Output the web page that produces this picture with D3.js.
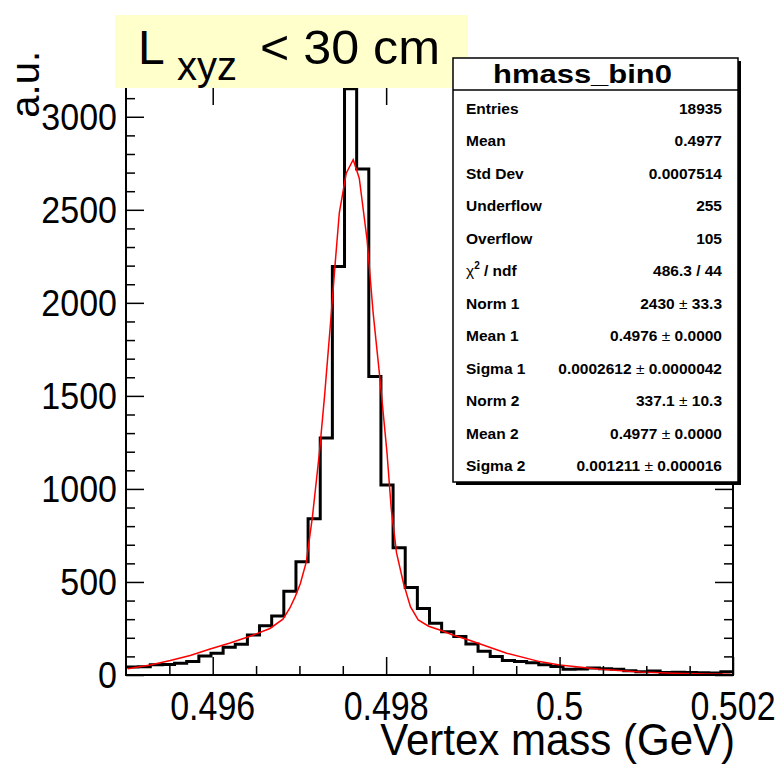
<!DOCTYPE html>
<html>
<head>
<meta charset="utf-8">
<script src="https://cdn.jsdelivr.net/npm/d3@7"></script>
<style>
  body { margin: 0; background: #fff; }
  svg { display: block; font-family: "Liberation Sans", Arial, Helvetica, sans-serif; }
</style>
</head>
<body>
<svg id="chart" width="778" height="767"></svg>
<script>
// histogram hmass_bin0, 50 bins over [0.495, 0.502]
const massMin = 0.495, massMax = 0.502;
const binCounts = [43, 45, 55, 57, 63, 72, 102, 117, 149, 165,
                   215, 265, 317, 450, 609, 840, 1274, 2195, 3150, 2719,
                   1604, 1021, 684, 470, 358, 278, 233, 207, 167, 127,
                   99, 78, 72, 66, 55, 46, 31, 32, 37, 33,
                   31, 23, 18, 21, 14, 15, 14, 12, 11, 18];

// fit curve
const fitMass = [0.49502, 0.49528, 0.49551, 0.49574, 0.49597, 0.49620, 0.49643, 0.49666,
                 0.49681, 0.49689, 0.49695, 0.49701, 0.49708, 0.49715, 0.49723, 0.49729,
                 0.49736, 0.49741, 0.49746, 0.49754, 0.49762, 0.49769, 0.49778, 0.49785,
                 0.49793, 0.49801, 0.49806, 0.49812, 0.49820, 0.49828, 0.49837, 0.49849,
                 0.49862, 0.49877, 0.49897, 0.49939, 0.49977, 0.50000, 0.50047, 0.50093,
                 0.50131, 0.50170, 0.50197];
const fitValue = [34, 54, 78, 105, 140, 172, 208, 250,
                  300, 360, 420, 490, 609, 851, 1193, 1500,
                  1900, 2199, 2484, 2697, 2769, 2670, 2339, 1946,
                  1586, 1193, 887, 656, 493, 367, 296, 262,
                  242, 215, 185, 117, 72, 54, 31, 16,
                  9, 5, 4];

const xTickValues = [0.496, 0.498, 0.5, 0.502];
const xTickLabels = ['0.496', '0.498', '0.5', '0.502'];
const yTickValues = [0, 500, 1000, 1500, 2000, 2500, 3000];
const yTickLabels = ['0', '500', '1000', '1500', '2000', '2500', '3000'];

const statsTitle = 'hmass_bin0';
const statsNames = ['Entries', 'Mean', 'Std Dev', 'Underflow', 'Overflow', 'chi2',
                    'Norm 1', 'Mean 1', 'Sigma 1', 'Norm 2', 'Mean 2', 'Sigma 2'];
const statsValues = ['18935', '0.4977', '0.0007514', '255', '105', '486.3 / 44',
                     '2430 \u00b1 33.3', '0.4976 \u00b1 0.0000', '0.0002612 \u00b1 0.0000042',
                     '337.1 \u00b1 10.3', '0.4977 \u00b1 0.0000', '0.001211 \u00b1 0.000016'];

const svg = d3.select('#chart');
const frame = { left: 126, right: 733, top: 87, bottom: 675 };

const x = d3.scaleLinear().domain([massMin, massMax]).range([frame.left, frame.right]);
const y = d3.scaleLinear().domain([0, 3160]).range([frame.bottom, frame.top]);

svg.append('defs').append('clipPath').attr('id', 'frameClip')
    .append('rect')
    .attr('x', frame.left).attr('y', frame.top)
    .attr('width', frame.right - frame.left).attr('height', frame.bottom - frame.top);

// histogram outline as steps
const binWidth = (massMax - massMin) / binCounts.length;
const steps = [];
binCounts.forEach((c, i) => {
    steps.push([massMin + i * binWidth, c]);
    steps.push([massMin + (i + 1) * binWidth, c]);
});

const plot = svg.append('g').attr('clip-path', 'url(#frameClip)');

plot.append('path')
    .datum(steps)
    .attr('fill', 'none')
    .attr('stroke', '#000')
    .attr('stroke-width', 3)
    .attr('d', d3.line().x(d => x(d[0])).y(d => y(d[1])));

plot.append('path')
    .datum(fitMass.map((m, i) => [m, fitValue[i]]))
    .attr('fill', 'none')
    .attr('stroke', '#ff0000')
    .attr('stroke-width', 1.5)
    .attr('d', d3.line().x(d => x(d[0])).y(d => y(d[1])));

// axes, ticks on both sides like ROOT
const axisStyle = g => {
    g.select('.domain').remove();
    g.selectAll('line').attr('stroke', '#000').attr('stroke-width', 1.5);
};

const xMinor = [0.4955, 0.4965, 0.497, 0.4975, 0.4985, 0.499, 0.4995, 0.5005, 0.501, 0.5015];
const yMinor = d3.range(100, 3160, 100).filter(v => v % 500 !== 0);

// bottom
svg.append('g')
    .attr('transform', `translate(0,${frame.bottom})`)
    .call(d3.axisTop(x).tickValues(xTickValues).tickSize(18).tickFormat(''))
    .call(axisStyle);
svg.append('g')
    .attr('transform', `translate(0,${frame.bottom})`)
    .call(d3.axisTop(x).tickValues(xMinor).tickSize(9).tickFormat(''))
    .call(axisStyle);
// top
svg.append('g')
    .attr('transform', `translate(0,${frame.top})`)
    .call(d3.axisBottom(x).tickValues(xTickValues).tickSize(18).tickFormat(''))
    .call(axisStyle);
// left
svg.append('g')
    .attr('transform', `translate(${frame.left},0)`)
    .call(d3.axisRight(y).tickValues(yTickValues).tickSize(18).tickFormat(''))
    .call(axisStyle);
svg.append('g')
    .attr('transform', `translate(${frame.left},0)`)
    .call(d3.axisRight(y).tickValues(yMinor).tickSize(9).tickFormat(''))
    .call(axisStyle);
// right
svg.append('g')
    .attr('transform', `translate(${frame.right},0)`)
    .call(d3.axisLeft(y).tickValues(yTickValues).tickSize(18).tickFormat(''))
    .call(axisStyle);
svg.append('g')
    .attr('transform', `translate(${frame.right},0)`)
    .call(d3.axisLeft(y).tickValues(yMinor).tickSize(9).tickFormat(''))
    .call(axisStyle);

svg.append('rect')
    .attr('x', frame.left).attr('y', frame.top)
    .attr('width', frame.right - frame.left).attr('height', frame.bottom - frame.top)
    .attr('fill', 'none').attr('stroke', '#000').attr('stroke-width', 2);

// tick labels (ROOT output is a bit stretched vertically)
svg.append('g').selectAll('text')
    .data(xTickValues)
    .join('text')
    .attr('transform', d => `translate(${x(d)},720) scale(1,1.22)`)
    .attr('text-anchor', 'middle')
    .attr('font-size', 34)
    .text((d, i) => xTickLabels[i]);

svg.append('g').selectAll('text')
    .data(yTickValues)
    .join('text')
    .attr('transform', d => `translate(117,${y(d) + 13}) scale(1,1.1)`)
    .attr('text-anchor', 'end')
    .attr('font-size', 34)
    .text((d, i) => yTickLabels[i]);

// axis titles
svg.append('text')
    .attr('transform', 'translate(735,755) scale(1,1.06)')
    .attr('text-anchor', 'end')
    .attr('font-size', 42)
    .text('Vertex mass (GeV)');

svg.append('text')
    .attr('transform', 'translate(39,51) rotate(-90)')
    .attr('text-anchor', 'end')
    .attr('font-size', 40)
    .text('a.u.');

// title box
svg.append('rect')
    .attr('x', 115).attr('y', 15).attr('width', 353).attr('height', 73)
    .attr('fill', '#ffffcc');
const title = svg.append('g');
title.append('text').attr('x', 138).attr('y', 64).attr('font-size', 48).text('L');
title.append('text').attr('x', 177).attr('y', 80).attr('font-size', 40).text('xyz');
title.append('text').attr('x', 260).attr('y', 64).attr('font-size', 48)
    .attr('textLength', 180).attr('lengthAdjust', 'spacingAndGlyphs')
    .text('< 30 cm');

// stats box
const box = { x: 453, y: 58, w: 285, h: 424 };
svg.append('rect')
    .attr('x', box.x + 3).attr('y', box.y + 3).attr('width', box.w).attr('height', box.h)
    .attr('fill', '#000');
svg.append('rect')
    .attr('x', box.x).attr('y', box.y).attr('width', box.w).attr('height', box.h)
    .attr('fill', '#fff').attr('stroke', '#000').attr('stroke-width', 1.5);
svg.append('line')
    .attr('x1', box.x).attr('x2', box.x + box.w)
    .attr('y1', 90).attr('y2', 90)
    .attr('stroke', '#000').attr('stroke-width', 1.5);
svg.append('text')
    .attr('x', 493).attr('y', 83)
    .attr('font-size', 26).attr('font-weight', 'bold')
    .attr('textLength', 179).attr('lengthAdjust', 'spacingAndGlyphs')
    .text(statsTitle);

const rows = svg.append('g').attr('font-size', 15.5).attr('font-weight', 'bold');
statsNames.forEach((name, i) => {
    const yy = 114 + i * 32.45;
    const label = rows.append('text').attr('x', 466).attr('y', yy);
    if (name === 'chi2') {
        label.append('tspan').attr('font-weight', 'normal').text('\u03c7');
        label.append('tspan').attr('font-size', 10).attr('dy', -7).text('2');
        label.append('tspan').attr('dy', 7).text(' / ndf');
    } else {
        label.text(name);
    }
    const value = rows.append('text')
        .attr('x', 722).attr('y', yy)
        .attr('text-anchor', 'end');
    const parts = statsValues[i].split(' \u00b1 ');
    value.append('tspan').text(parts[0]);
    if (parts.length > 1) {
        value.append('tspan').attr('font-weight', 'normal').text(' \u00b1 ');
        value.append('tspan').text(parts[1]);
    }
});
</script>
</body>
</html>
